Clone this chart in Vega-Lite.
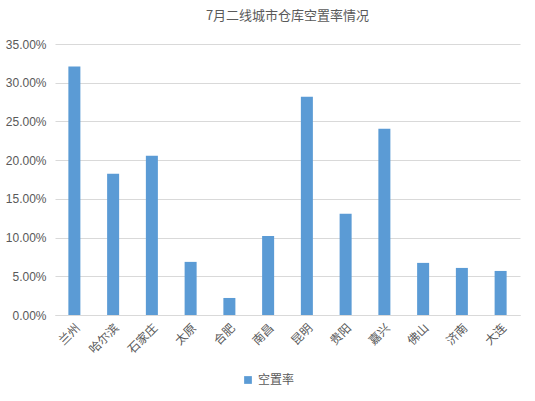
{
  "$schema": "https://vega.github.io/schema/vega-lite/v6.json",
  "width": 465,
  "height": 271,
  "autosize": {"type": "none"},
  "padding": {"left": 55, "top": 44, "right": 15, "bottom": 86},
  "background": "white",
  "title": {
    "text": "7月二线城市仓库空置率情况",
    "font": "Noto Sans CJK SC",
    "fontSize": 13,
    "fontWeight": "normal",
    "color": "#595959",
    "anchor": "middle",
    "offset": 15
  },
  "data": {
    "values": [
      {"city": "兰州", "rate": 0.3208},
      {"city": "哈尔滨", "rate": 0.1824},
      {"city": "石家庄", "rate": 0.2057},
      {"city": "太原", "rate": 0.0686},
      {"city": "合肥", "rate": 0.022},
      {"city": "南昌", "rate": 0.102},
      {"city": "昆明", "rate": 0.282},
      {"city": "贵阳", "rate": 0.1307},
      {"city": "嘉兴", "rate": 0.2406},
      {"city": "佛山", "rate": 0.0673},
      {"city": "济南", "rate": 0.0608},
      {"city": "大连", "rate": 0.0569}
    ]
  },
  "mark": {"type": "bar", "color": "#5B9BD5"},
  "encoding": {
    "x": {
      "field": "city",
      "type": "nominal",
      "sort": null,
      "title": null,
      "scale": {"paddingInner": 0.69, "paddingOuter": 0.345},
      "axis": {
        "labelAngle": -45,
        "labelFont": "Noto Sans CJK SC",
        "labelFontSize": 12,
        "labelColor": "#595959",
        "labelPadding": 7,
        "ticks": false,
        "domainColor": "#d9d9d9"
      }
    },
    "y": {
      "field": "rate",
      "type": "quantitative",
      "title": null,
      "scale": {"domain": [0, 0.35]},
      "axis": {
        "values": [0, 0.05, 0.1, 0.15, 0.2, 0.25, 0.3, 0.35],
        "format": ".2%",
        "labelFont": "Liberation Sans",
        "labelFontSize": 12,
        "labelColor": "#595959",
        "labelPadding": 9,
        "ticks": false,
        "domain": false,
        "gridColor": "#d9d9d9"
      }
    },
    "color": {
      "datum": "空置率",
      "type": "nominal",
      "scale": {"range": ["#5B9BD5"]},
      "legend": {
        "title": null,
        "orient": "none",
        "legendX": 187,
        "legendY": 330,
        "symbolType": "square",
        "symbolSize": 60,
        "labelFont": "Noto Sans CJK SC",
        "labelFontSize": 12,
        "labelColor": "#595959"
      }
    }
  },
  "config": {"view": {"stroke": null}}
}
